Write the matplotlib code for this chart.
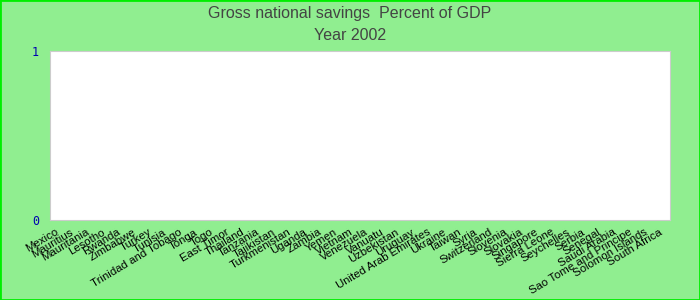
import matplotlib
matplotlib.use("Agg")
import matplotlib.pyplot as plt
import matplotlib.transforms as mtransforms

# Categories (countries) in the order they appear on the x axis
countries = ["Mexico", "Mauritius", "Mauritania", "Lesotho", "Rwanda", "Zimbabwe",
             "Turkey", "Tunisia", "Trinidad and Tobago", "Tonga", "Togo", "East Timor",
             "Thailand", "Tanzania", "Tajikistan", "Turkmenistan", "Uganda", "Zambia",
             "Yemen", "Vietnam", "Venezuela", "Vanuatu", "Uzbekistan", "Uruguay",
             "United Arab Emirates", "Ukraine", "Taiwan", "Syria", "Switzerland",
             "Slovenia", "Slovakia", "Singapore", "Sierra Leone", "Seychelles",
             "Serbia", "Senegal", "Saudi Arabia", "Sao Tome and Principe",
             "Solomon Islands", "South Africa"]
# No visible values for 2002 in the reference
savings = [0] * len(countries)
y_ticks = [0, 1]

fig = plt.figure(figsize=(7, 3), dpi=100, facecolor="#90ee90")
fig.patches.append(plt.Rectangle((0, 0), 1, 1, transform=fig.transFigure,
                                 fill=False, edgecolor="#00ee00", linewidth=2))
ax = fig.add_axes([50 / 700, 80 / 300, 620 / 700, 169 / 300])
ax.set_facecolor("white")

x = range(len(countries))
ax.bar(x, savings, width=0.6, color="#4472c4")

ax.set_xlim(-0.5, len(countries) - 0.5)
ax.set_ylim(0, 1)
ax.set_yticks(y_ticks)
ax.set_yticklabels([str(v) for v in y_ticks], color="#0000b0",
                   fontfamily="DejaVu Sans Mono", fontsize=8.5)
ax.set_xticks(list(x))
ax.set_xticklabels(countries, rotation=31, ha="right", rotation_mode="anchor",
                   fontsize=8.2, fontfamily="Liberation Sans", color="#000000")
ax.tick_params(axis="both", length=0)
ax.tick_params(axis="y", pad=8)
ax.tick_params(axis="x", pad=5)
shift = mtransforms.ScaledTranslation(-3 / 100, 0, fig.dpi_scale_trans)
for lab in ax.get_xticklabels():
    lab.set_transform(lab.get_transform() + shift)
for s in ax.spines.values():
    s.set_color("#cccccc")

fig.text(0.5, 0.955, "Gross national savings  Percent of GDP", ha="center", va="center",
         fontsize=11.5, color="#444444", fontfamily="Liberation Sans")
fig.text(0.5, 0.88, "Year 2002", ha="center", va="center",
         fontsize=11.5, color="#444444", fontfamily="Liberation Sans")

fig.savefig("out.png", dpi=100, facecolor=fig.get_facecolor())
